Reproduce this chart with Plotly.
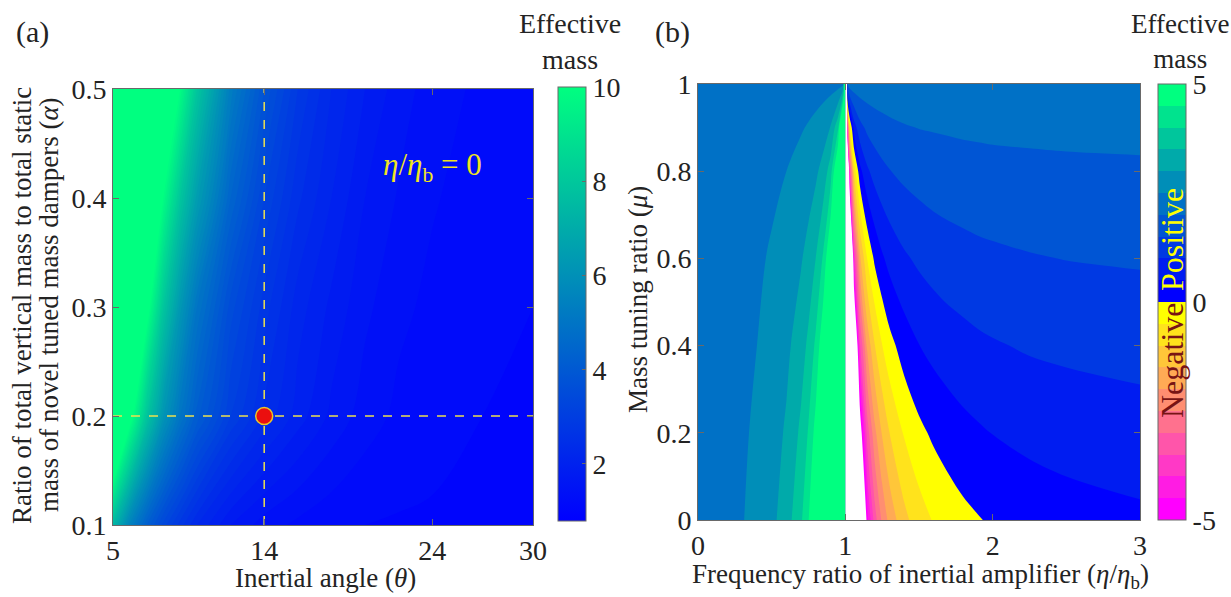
import plotly.graph_objects as go

# ---------------- data: panel (a) ----------------
theta_nodes = [5, 6, 7, 8, 9, 10, 12, 14, 16, 18, 20, 22, 24, 27, 30]
alpha_rows = [0.1, 0.2, 0.3, 0.4, 0.5]
mass_a_010 = [7.5, 5.5, 4.2, 3.3, 2.7, 2.2, 1.6, 1.3, 1.15, 1.05, 1.0, 0.98, 0.97, 0.96, 0.95]
mass_a_020 = [14, 10.5, 8, 6.2, 5, 4.1, 3.0, 2.35, 1.9, 1.55, 1.3, 1.15, 1.08, 1.0, 0.97]
mass_a_030 = [20, 14, 10.5, 8, 6.3, 5, 3.5, 2.7, 2.1, 1.75, 1.45, 1.25, 1.15, 1.05, 1.0]
mass_a_040 = [25, 18, 13, 10, 8, 6.5, 4.4, 3.2, 2.45, 2.0, 1.6, 1.38, 1.22, 1.1, 1.02]
mass_a_050 = [30, 22, 16, 12.5, 10, 8, 5.3, 3.8, 2.8, 2.2, 1.8, 1.5, 1.3, 1.15, 1.05]
mass_a = [mass_a_010, mass_a_020, mass_a_030, mass_a_040, mass_a_050]
theta_point = 14
alpha_point = 0.2
cbar_a_ticks = [2, 4, 6, 8, 10]
cbar_a_min, cbar_a_max = 0.79, 10

# ---------------- data: panel (b) ----------------
mu_rows = [0, 0.2, 0.4, 0.6, 0.8, 0.9, 1.0]
eta_left = [0, 0.15, 0.3, 0.4, 0.5, 0.6, 0.7, 0.75, 0.8, 0.85, 0.9, 0.95, 0.98, 0.99, 1.0]
mass_left_00 = [2.31, 2.35, 2.48, 2.63, 2.87, 3.26, 3.93, 4.48, 5.31, 6.71, 9.52, 17.95, 43.29, 85.5, 100]
mass_left_02 = [2.31, 2.34, 2.44, 2.57, 2.76, 3.07, 3.61, 4.05, 4.71, 5.83, 8.07, 14.82, 35.10, 68.9, 100]
mass_left_04 = [2.31, 2.33, 2.41, 2.50, 2.65, 2.88, 3.28, 3.61, 4.11, 4.95, 6.63, 11.70, 26.90, 52.3, 100]
mass_left_06 = [2.31, 2.33, 2.38, 2.44, 2.54, 2.69, 2.96, 3.18, 3.51, 4.07, 5.19, 8.57, 18.70, 35.6, 100]
mass_left_08 = [2.31, 2.32, 2.34, 2.37, 2.42, 2.50, 2.64, 2.75, 2.91, 3.19, 3.75, 5.44, 10.51, 18.9, 100]
mass_left_09 = [2.31, 2.31, 2.33, 2.34, 2.37, 2.41, 2.47, 2.53, 2.61, 2.75, 3.03, 3.87, 6.41, 10.6, 100]
mass_left_10 = [2.31, 2.31, 2.31, 2.31, 2.31, 2.31, 2.31, 2.31, 2.31, 2.31, 2.31, 2.31, 2.31, 2.31, 100]
mass_left = [mass_left_00, mass_left_02, mass_left_04, mass_left_06,
             mass_left_08, mass_left_09, mass_left_10]

eta_right = [1.0, 1.015, 1.03, 1.06, 1.1, 1.15, 1.2, 1.25, 1.3, 1.4, 1.5, 1.6, 1.7, 1.8, 1.9, 2.0, 2.25, 2.5, 3.0]
mass_right_00 = [-100, -55.3, -27.13, -13.05, -7.43, -4.62, -3.22, -2.39, -1.83, -1.14, -0.73, -0.46, -0.27, -0.13, -0.03, 0.06, 0.20, 0.30, 0.41]
mass_right_02 = [-100, -43.8, -21.24, -9.98, -5.48, -3.24, -2.12, -1.45, -1.00, -0.45, -0.12, 0.09, 0.24, 0.36, 0.44, 0.51, 0.63, 0.70, 0.79]
mass_right_04 = [-100, -32.3, -15.35, -6.91, -3.53, -1.85, -1.01, -0.51, -0.17, 0.24, 0.49, 0.65, 0.76, 0.84, 0.91, 0.96, 1.05, 1.10, 1.17]
mass_right_06 = [-100, -20.7, -9.47, -3.84, -1.59, -0.46, 0.10, 0.43, 0.66, 0.93, 1.09, 1.20, 1.28, 1.33, 1.38, 1.41, 1.47, 1.51, 1.55]
mass_right_08 = [-100, -9.21, -3.58, -0.76, 0.36, 0.92, 1.20, 1.37, 1.48, 1.62, 1.70, 1.76, 1.79, 1.82, 1.84, 1.86, 1.89, 1.91, 1.93]
mass_right_09 = [-100, -3.45, -0.63, 0.77, 1.34, 1.62, 1.76, 1.84, 1.90, 1.97, 2.01, 2.03, 2.05, 2.07, 2.08, 2.09, 2.10, 2.11, 2.12]
mass_right_10 = [-100, 2.31, 2.31, 2.31, 2.31, 2.31, 2.31, 2.31, 2.31, 2.31, 2.31, 2.31, 2.31, 2.31, 2.31, 2.31, 2.31, 2.31, 2.31]
mass_right = [mass_right_00, mass_right_02, mass_right_04, mass_right_06,
              mass_right_08, mass_right_09, mass_right_10]

level_start, level_end, level_step = -5, 5, 0.5
cbar_b_ticks = [-5, 0, 5]

# ---------------- styling helpers ----------------
W, H = 1231, 597
FONT = "Liberation Serif"
TXT = "rgb(35,35,35)"
AXC = "rgb(105,105,105)"


def px(x):
    return x / W


def py(y):
    return 1 - y / H


def winter(t):
    return "rgb(0,%d,%d)" % (round(255 * t), round(255 * (1 - t / 2)))


def spring(t):
    return "rgb(255,%d,%d)" % (round(255 * t), round(255 * (1 - t)))


# 20 discrete band colours: 10 negative (spring), 10 positive (winter)
band_colors = [spring(i / 9) for i in range(10)] + [winter(i / 9) for i in range(10)]

# colourscale for the filled contours of panel (b):
# background (below -5) white, then the 20 bands, then >5 same as top band
fill_cols = ["rgb(255,255,255)"] + band_colors + [band_colors[-1]]
nfill = len(fill_cols)
cs_fill = []
for k, c in enumerate(fill_cols):
    lo = max(0.0, (k - 0.5) / (nfill - 1))
    hi = min(1.0, (k + 0.5) / (nfill - 1))
    cs_fill.append([lo, c])
    cs_fill.append([hi, c])

# colourscale for the discrete colourbar of panel (b)
cs_bar_b = []
nb = len(band_colors)
for k, c in enumerate(band_colors):
    cs_bar_b.append([k / nb, c])
    cs_bar_b.append([(k + 1) / nb, c])

winter_cs = [[0, winter(0)], [1, winter(1)]]

fig = go.Figure()

# ---- panel (a) ----
fig.add_trace(go.Contour(
    x=theta_nodes, y=alpha_rows, z=mass_a, xaxis="x", yaxis="y",
    colorscale=winter_cs,
    contours=dict(start=0.8, end=10, size=0.2, coloring="fill", showlines=False),
    line=dict(width=0), showscale=False, hoverinfo="skip"))

dash_col = "rgb(235,225,80)"
fig.add_trace(go.Scatter(
    x=[theta_nodes[0], theta_nodes[-1]], y=[alpha_point, alpha_point], mode="lines",
    xaxis="x", yaxis="y", line=dict(color=dash_col, width=1.5, dash="dash"),
    hoverinfo="skip"))
fig.add_trace(go.Scatter(
    x=[theta_point, theta_point], y=[alpha_rows[0], alpha_rows[-1]], mode="lines",
    xaxis="x", yaxis="y", line=dict(color=dash_col, width=1.5, dash="dash"),
    hoverinfo="skip"))

fig.add_trace(go.Scatter(
    x=[theta_point], y=[alpha_point], mode="markers", xaxis="x", yaxis="y",
    marker=dict(size=17, color="rgb(235,15,15)",
                line=dict(color="rgb(235,200,40)", width=1.5)),
    hoverinfo="skip"))

# colourbar (a) via hidden marker trace
fig.add_trace(go.Scatter(
    x=[theta_point, theta_point], y=[alpha_point, alpha_point], mode="markers",
    xaxis="x", yaxis="y",
    marker=dict(size=1, opacity=0, color=[cbar_a_min, cbar_a_max],
                cmin=cbar_a_min, cmax=cbar_a_max, colorscale=winter_cs,
                showscale=True,
                colorbar=dict(x=px(558), xanchor="left", xpad=0,
                              y=py((87 + 521) / 2), yanchor="middle", ypad=0,
                              len=(521 - 87) / H, lenmode="fraction",
                              thickness=28, thicknessmode="pixels",
                              outlinewidth=1, outlinecolor=AXC,
                              tickvals=cbar_a_ticks, ticks="inside", ticklen=4,
                              tickcolor=AXC,
                              tickfont=dict(family=FONT, size=28, color=TXT))),
    hoverinfo="skip"))

# ---- panel (b) ----
for ex, zz in ((eta_left, mass_left), (eta_right, mass_right)):
    fig.add_trace(go.Contour(
        x=ex, y=mu_rows, z=zz, xaxis="x2", yaxis="y2",
        colorscale=cs_fill,
        contours=dict(start=level_start, end=level_end, size=level_step,
                      coloring="fill", showlines=False),
        line=dict(width=0), showscale=False, hoverinfo="skip"))

fig.add_trace(go.Scatter(
    x=[eta_left[0], eta_left[0]], y=[mu_rows[0], mu_rows[0]], mode="markers",
    xaxis="x2", yaxis="y2",
    marker=dict(size=1, opacity=0, color=[level_start, level_end],
                cmin=level_start, cmax=level_end, colorscale=cs_bar_b,
                showscale=True,
                colorbar=dict(x=px(1158), xanchor="left", xpad=0,
                              y=py((84 + 520) / 2), yanchor="middle", ypad=0,
                              len=(520 - 84) / H, lenmode="fraction",
                              thickness=28, thicknessmode="pixels",
                              outlinewidth=1, outlinecolor=AXC,
                              tickvals=cbar_b_ticks,
                              ticktext=[str(v) for v in cbar_b_ticks],
                              ticks="", tickfont=dict(family=FONT, size=28, color=TXT))),
    hoverinfo="skip"))

axis_common = dict(showgrid=False, zeroline=False, showline=True, linecolor=AXC,
                   linewidth=1, mirror="ticks", ticks="inside", ticklen=6,
                   tickcolor=AXC, automargin=False,
                   tickfont=dict(family=FONT, size=28, color=TXT))

fig.update_layout(
    template="none",
    width=W, height=H, autosize=False,
    margin=dict(l=0, r=0, t=0, b=0, pad=0),
    paper_bgcolor="white", plot_bgcolor="white",
    showlegend=False,
    font=dict(family=FONT, color=TXT),
    xaxis=dict(domain=[px(113), px(533)], range=[5, 30], tickvals=[5, 14, 24, 30],
               anchor="y", **axis_common),
    yaxis=dict(domain=[py(525), py(89)], range=[0.1, 0.5],
               tickvals=[0.1, 0.2, 0.3, 0.4, 0.5],
               ticktext=["0.1", "0.2", "0.3", "0.4", "0.5"], anchor="x", **axis_common),
    xaxis2=dict(domain=[px(698), px(1140)], range=[0, 3], tickvals=[0, 1, 2, 3],
                anchor="y2", **axis_common),
    yaxis2=dict(domain=[py(520), py(84)], range=[0, 1],
                tickvals=[0, 0.2, 0.4, 0.6, 0.8, 1],
                ticktext=["0", "0.2", "0.4", "0.6", "0.8", "1"], anchor="x2", **axis_common),
)


def ann(text, x, y, size=27, color=TXT, angle=0, xref="paper", yref="paper"):
    fig.add_annotation(text=text, x=x, y=y, xref=xref, yref=yref, showarrow=False,
                       textangle=angle, xanchor="center", yanchor="middle",
                       font=dict(family=FONT, size=size, color=color))


ann("(a)", px(32), py(32), size=30)
ann("(b)", px(672), py(32), size=30)
ann("Effective<br>mass", px(570), py(41), size=28)
ann("Effective<br>mass", px(1180), py(41), size=27)
ann("Inertial angle (<i>θ</i>)", px(326), py(578), size=27)
ann("Frequency ratio of inertial amplifier (<i>η</i>/<i>η</i><sub>b</sub>)",
    px(920), py(576), size=27)
ann("Ratio of total vertical mass to total static", px(22), py(306), size=27, angle=-90)
ann("mass of novel tuned mass dampers (<i>α</i>)", px(49), py(305), size=27, angle=-90)
ann("Mass tuning ratio (<i>μ</i>)", px(638), py(300), size=27, angle=-90)
ann("<i>η</i>/<i>η</i><sub>b</sub> = 0", 24.0, 0.428, size=31,
    color="rgb(240,228,30)", xref="x", yref="y")
ann("Positive", px(1172), py(240), size=32, color="rgb(255,255,0)", angle=-90)
ann("Negative", px(1172), py(360), size=32, color="rgb(120,20,20)", angle=-90)

fig.write_html("out.html")
